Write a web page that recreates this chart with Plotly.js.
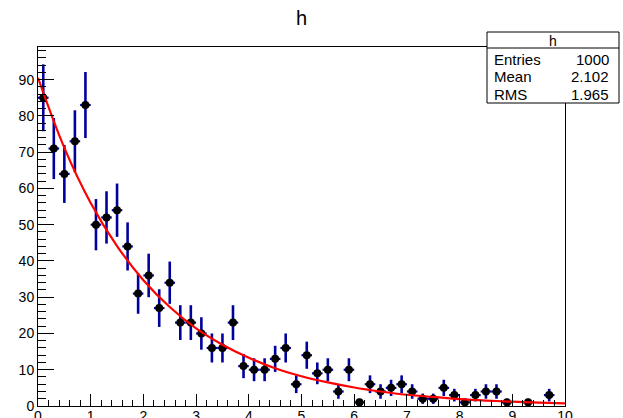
<!DOCTYPE html>
<html>
<head>
<meta charset="utf-8">
<script src="https://cdn.plot.ly/plotly-3.0.1.min.js"></script>
<style>html,body{margin:0;padding:0;background:#fff;}#chart{width:623px;height:418px;}</style>
</head>
<body>
<div id="chart"></div>
<script>
// Histogram "h": 50 bins of width 0.2 on [0,10]
const binCenters = [0.1,0.3,0.5,0.7,0.9,1.1,1.3,1.5,1.7,1.9,2.1,2.3,2.5,2.7,2.9,3.1,3.3,3.5,3.7,3.9,
  4.1,4.3,4.5,4.7,4.9,5.1,5.3,5.5,5.7,5.9,6.1,6.3,6.5,6.7,6.9,7.1,7.3,7.5,7.7,7.9,
  8.1,8.3,8.5,8.7,8.9,9.1,9.3,9.5,9.7,9.9];
const counts = [85,71,64,73,83,50,52,54,44,31,36,27,34,23,23,20,16,16,23,11,
  10,10,13,16,6,14,9,10,4,10,1,6,4,5,6,4,2,2,5,3,
  1,3,4,4,1,0,1,0,3,0];
const binHalfWidth = 0.1;
// Exponential fit curve
const fitX = [0,0.5,1,1.5,2,2.5,3,3.5,4,4.5,5,5.5,6,6.5,7,7.5,8,8.5,9,9.5,10];
const fitY = [90.5,71.2,56.0,44.1,34.7,27.3,21.4,16.9,13.3,10.4,8.2,6.5,5.1,4.0,3.1,2.5,1.9,1.5,1.2,0.95,0.74];
// Stats box
const statsTitle = "h";
const statsLabels = ["Entries","Mean","RMS"];
const statsValues = ["1000","2.102","1.965"];

const xs = [], ys = [], es = [];
for (let i = 0; i < counts.length; i++) {
  if (counts[i] > 0) { xs.push(binCenters[i]); ys.push(counts[i]); es.push(Math.sqrt(counts[i])); }
}

const W = 623, H = 418, L = 38, R = 58, T = 47, B = 12;
const pw = W - L - R, ph = H - T - B;
const px = x => (x - L) / pw;
const py = y => (H - B - y) / ph;

const font = "Liberation Sans, Arial, Helvetica, sans-serif";

const traces = [
  {
    type: 'scatter', mode: 'markers', x: xs, y: ys,
    marker: {color: '#000000', size: 8},
    error_y: {type: 'data', array: es, visible: true, color: '#00009c', thickness: 2.6, width: 0},
    error_x: {type: 'constant', value: binHalfWidth, visible: true, color: '#00009c', thickness: 2.2, width: 0},
    hoverinfo: 'x+y', showlegend: false
  },
  {
    type: 'scatter', mode: 'lines', x: fitX, y: fitY,
    line: {color: '#ff0000', width: 2.2, shape: 'spline'},
    hoverinfo: 'skip', showlegend: false
  }
];

const annotations = [];
annotations.push({xref: 'paper', yref: 'paper', x: px(553), y: py(40.5), text: statsTitle, showarrow: false,
  xanchor: 'center', yanchor: 'middle', font: {family: font, size: 14, color: '#000'}});
const rowsY = [59, 76.5, 94];
for (let i = 0; i < statsLabels.length; i++) {
  annotations.push({xref: 'paper', yref: 'paper', x: px(492), y: py(rowsY[i]), text: statsLabels[i], showarrow: false,
    xanchor: 'left', yanchor: 'middle', font: {family: font, size: 15, color: '#000'}});
  annotations.push({xref: 'paper', yref: 'paper', x: px(611), y: py(rowsY[i]), text: statsValues[i], showarrow: false,
    xanchor: 'right', yanchor: 'middle', font: {family: font, size: 15, color: '#000'}});
}

const layout = {
  width: W, height: H,
  margin: {l: L, r: R, t: T, b: B, pad: 0},
  paper_bgcolor: '#ffffff', plot_bgcolor: '#ffffff',
  font: {family: font, size: 13, color: '#000'},
  title: {text: 'h', font: {family: font, size: 20, color: '#000'}, xref: 'paper', x: 0.5, xanchor: 'center',
    yref: 'container', y: 1 - 18 / H, yanchor: 'middle'},
  xaxis: {range: [0, 10], showgrid: false, zeroline: false, showline: true, linecolor: '#000', linewidth: 1, mirror: true,
    ticks: 'inside', ticklen: 12, tickwidth: 1, tickcolor: '#000', dtick: 1, tick0: 0,
    minor: {ticks: 'inside', ticklen: 6, dtick: 0.2, tickcolor: '#000', tickwidth: 1, showgrid: false},
    tickfont: {family: font, size: 14, color: '#000'}, ticklabelstandoff: -3, fixedrange: true},
  yaxis: {range: [0, 99], showgrid: false, zeroline: false, showline: true, linecolor: '#000', linewidth: 1, mirror: true,
    ticks: 'inside', ticklen: 16, tickwidth: 1, tickcolor: '#000', dtick: 10, tick0: 0,
    minor: {ticks: 'inside', ticklen: 8, dtick: 2, tickcolor: '#000', tickwidth: 1, showgrid: false},
    tickfont: {family: font, size: 14, color: '#000'}, ticklabelstandoff: 0, fixedrange: true},
  shapes: [
    {type: 'rect', xref: 'paper', yref: 'paper', x0: px(487), x1: px(619), y0: py(103), y1: py(32),
      fillcolor: '#ffffff', line: {color: '#000', width: 1}, layer: 'above'},
    {type: 'line', xref: 'paper', yref: 'paper', x0: px(487), x1: px(619), y0: py(48), y1: py(48),
      line: {color: '#000', width: 1}, layer: 'above'}
  ],
  annotations: annotations,
  showlegend: false
};

Plotly.newPlot('chart', traces, layout, {displayModeBar: false, staticPlot: true});
</script>
</body>
</html>
